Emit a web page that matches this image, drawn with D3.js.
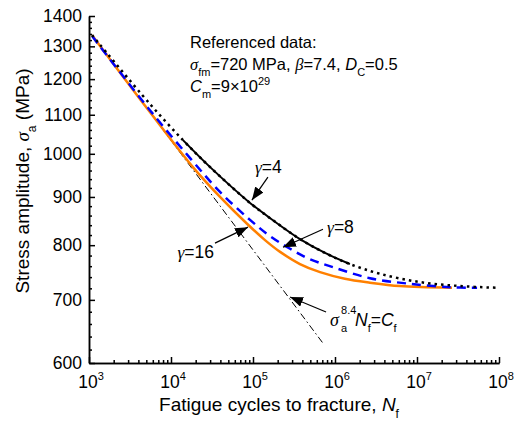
<!DOCTYPE html>
<html>
<head>
<meta charset="utf-8">
<script src="https://cdn.jsdelivr.net/npm/d3@7"></script>
<style>
  body { margin: 0; background: #fff; }
  svg { font-family: "Liberation Sans", Arial, sans-serif; }
  .axis path, .axis line { stroke: #000; stroke-width: 1.5; }
  .axis text { font-size: 17.5px; fill: #000; }
</style>
</head>
<body>
<svg id="chart"></svg>
<script>
// values
var refCycles   = [1.09e3, 5.5e3, 1.4e4, 3.0e4, 9.2e4, 1.86e5, 3.74e5, 7.55e5, 1.52e6, 3.54e6, 1.09e7, 3.35e7, 9.45e7];
var refStress   = [1336, 1130, 1034, 968, 887, 847, 812, 785, 764, 746, 731, 724, 721];

var g4Cycles    = [1.4e4, 3.0e4, 9.2e4, 1.86e5, 3.74e5, 7.55e5, 1.52e6];
var g4Stress    = [1034, 968, 887, 847, 812, 785, 764];

var g8Cycles    = [1.09e3, 5.5e3, 1.7e4, 3.96e4, 9.2e4, 1.61e5, 2.83e5, 4.96e5, 1.0e6, 2.67e6, 8.2e6, 2.53e7, 5.4e7];
var g8Stress    = [1333, 1113, 990, 911, 851, 818, 793, 773, 757, 738, 728, 722, 721];

var g16Cycles   = [1.09e3, 5.5e3, 1.85e4, 3.96e4, 8.45e4, 1.4e5, 2.14e5, 3.74e5, 6.57e5, 1.32e6, 2.67e6, 6.2e6, 2.67e7];
var g16Stress   = [1336, 1108, 968, 900, 843, 810, 787, 764, 749, 737, 730, 724, 721];

var basqCycles  = [1.09e3, 7.3e5];
var basqStress  = [1336, 628];

var xMajor = [1e3, 1e4, 1e5, 1e6, 1e7, 1e8];
var yMajor = [600, 700, 800, 900, 1000, 1100, 1200, 1300, 1400];

var width = 516, height = 421;
var svg = d3.select('#chart')
    .attr('width', width)
    .attr('height', height);

var x = d3.scaleLog().domain([1e3, 1e8]).range([89, 499]);
var y = d3.scaleLog().domain([600, 1400]).range([363, 16]);

// minor ticks
var xMinor = [];
xMajor.slice(0, -1).forEach(function(d) {
    for (var k = 2; k < 10; k++) xMinor.push(d * k);
});
var yMinor = d3.range(620, 1400, 20).filter(function(d) { return d % 100 != 0; });

svg.append('g').attr('class', 'axis')
    .attr('transform', 'translate(0,363)')
    .call(d3.axisBottom(x).tickValues(xMinor).tickSize(-3).tickSizeOuter(0).tickFormat(''));
svg.append('g').attr('class', 'axis')
    .attr('transform', 'translate(0,363)')
    .call(d3.axisBottom(x).tickValues(xMajor).tickSize(-6).tickSizeOuter(0).tickFormat(''));
svg.append('g').attr('class', 'axis')
    .attr('transform', 'translate(89,0)')
    .call(d3.axisLeft(y).tickValues(yMinor).tickSize(-3).tickSizeOuter(0).tickFormat(''));
svg.append('g').attr('class', 'axis')
    .attr('transform', 'translate(89,0)')
    .call(d3.axisLeft(y).tickValues(yMajor).tickSize(-6).tickSizeOuter(0).tickPadding(7).tickFormat(d3.format('d')));

// text with sub/superscripts: segs = [{t, it, sub, sup, greek}]
function richText(sel, segs, size) {
    var shift = 0;
    segs.forEach(function(s) {
        var ts = sel.append('tspan').text(s.t);
        var target = s.sub ? 0.35 * size : (s.sup ? -0.45 * size : 0);
        ts.attr('dy', target - shift);
        shift = target;
        if (s.sub || s.sup) ts.attr('font-size', Math.round(size * 0.65));
        if (s.it) ts.attr('font-style', 'italic');
        if (s.greek) ts.attr('font-family', '"Liberation Serif", "Times New Roman", serif');
    });
    return sel;
}

// x tick labels
xMajor.forEach(function(d) {
    var t = svg.append('text')
        .attr('x', x(d) + 2).attr('y', 388)
        .attr('text-anchor', 'middle')
        .attr('font-size', 17.5);
    richText(t, [{t: '10'}, {t: String(Math.round(Math.log10(d))), sup: true}], 17.5);
});

// axis titles
richText(svg.append('text')
    .attr('x', 279).attr('y', 411)
    .attr('text-anchor', 'middle').attr('font-size', 19),
    [{t: 'Fatigue cycles to fracture, '}, {t: 'N', it: true}, {t: 'f', sub: true}], 19);

richText(svg.append('text')
    .attr('transform', 'translate(29,181) rotate(-90)')
    .attr('text-anchor', 'middle').attr('font-size', 19),
    [{t: 'Stress amplitude, '}, {t: 'σ', it: true, greek: true}, {t: 'a', sub: true}, {t: ' (MPa)'}], 19);

// curves
var line = d3.line()
    .x(function(d) { return x(d[0]); })
    .y(function(d) { return y(d[1]); })
    .curve(d3.curveCatmullRom);

function pairs(a, b) { return a.map(function(v, i) { return [v, b[i]]; }); }

var gDraw = svg.append('g');

gDraw.append('path').datum(pairs(basqCycles, basqStress))
    .attr('d', line).attr('fill', 'none')
    .attr('stroke', '#000').attr('stroke-width', 1)
    .attr('stroke-dasharray', '7,3,1.5,3');

gDraw.append('path').datum(pairs(g16Cycles, g16Stress))
    .attr('d', line).attr('fill', 'none')
    .attr('stroke', '#ff8000').attr('stroke-width', 2.5);

gDraw.append('path').datum(pairs(g8Cycles, g8Stress))
    .attr('d', line).attr('fill', 'none')
    .attr('stroke', '#0000ff').attr('stroke-width', 2.5)
    .attr('stroke-dasharray', '9,6');

gDraw.append('path').datum(pairs(g4Cycles, g4Stress))
    .attr('d', line).attr('fill', 'none')
    .attr('stroke', '#000').attr('stroke-width', 2);

gDraw.append('path').datum(pairs(refCycles, refStress))
    .attr('d', line).attr('fill', 'none')
    .attr('stroke', '#000').attr('stroke-width', 2.5)
    .attr('stroke-dasharray', '2.5,4');

// arrows
svg.append('defs').append('marker')
    .attr('id', 'head')
    .attr('markerUnits', 'userSpaceOnUse')
    .attr('markerWidth', 14).attr('markerHeight', 10)
    .attr('refX', 13).attr('refY', 5)
    .attr('orient', 'auto')
    .append('path').attr('d', 'M0,0 L13,5 L0,10 Z').attr('fill', '#000');

var notes = [
    {n: 9.7e4, s: 893, dx: 16, dy: -23},
    {n: 2.32e5, s: 796, dx: 40, dy: -18},
    {n: 8.69e4, s: 836, dx: -33, dy: 16},
    {n: 2.83e5, s: 705, dx: 36, dy: 15}
];
notes.forEach(function(a) {
    var tx = x(a.n), ty = y(a.s);
    svg.append('line')
        .attr('x1', tx + a.dx).attr('y1', ty + a.dy)
        .attr('x2', tx).attr('y2', ty)
        .attr('stroke', '#000').attr('stroke-width', 1.2)
        .attr('marker-end', 'url(#head)');
});

function note(px, py, segs, anchor) {
    richText(svg.append('text').attr('x', px).attr('y', py)
        .attr('font-size', 17.5).attr('text-anchor', anchor || 'start'), segs, 17.5);
}
note(x(9.7e4) + 3, y(893) - 27, [{t: 'γ', it: true, greek: true}, {t: '=4'}]);
note(x(2.32e5) + 44, y(796) - 14, [{t: 'γ', it: true, greek: true}, {t: '=8'}]);
note(x(8.69e4) - 34, y(836) + 31, [{t: 'γ', it: true, greek: true}, {t: '=16'}], 'end');

// Basquin label
var bx = x(2.83e5) + 40, by = y(705) + 29;
svg.append('text').attr('x', bx).attr('y', by).attr('font-size', 18)
    .attr('font-style', 'italic').attr('font-family', '"Liberation Serif", serif').text('σ');
svg.append('text').attr('x', bx + 11).attr('y', by - 12).attr('font-size', 11).text('8.4');
svg.append('text').attr('x', bx + 11).attr('y', by + 6).attr('font-size', 11).text('a');
richText(svg.append('text').attr('x', bx + 25).attr('y', by).attr('font-size', 17.5),
    [{t: 'N', it: true}, {t: 'f', sub: true}, {t: '='}, {t: 'C', it: true}, {t: 'f', sub: true}], 17.5);

// parameter block
var pg = svg.append('g').attr('transform', 'translate(190,48)');
pg.append('text').attr('font-size', 16.5).text('Referenced data:');
richText(pg.append('text').attr('y', 22).attr('font-size', 16.5),
    [{t: 'σ', it: true, greek: true}, {t: 'fm', sub: true}, {t: '=720 MPa, '},
     {t: 'β', it: true, greek: true}, {t: '=7.4, '}, {t: 'D', it: true}, {t: 'C', sub: true}, {t: '=0.5'}], 16.5);
richText(pg.append('text').attr('y', 44).attr('font-size', 16.5),
    [{t: 'C', it: true}, {t: 'm', sub: true}, {t: '=9×10'}, {t: '29', sup: true}], 16.5);
</script>
</body>
</html>
